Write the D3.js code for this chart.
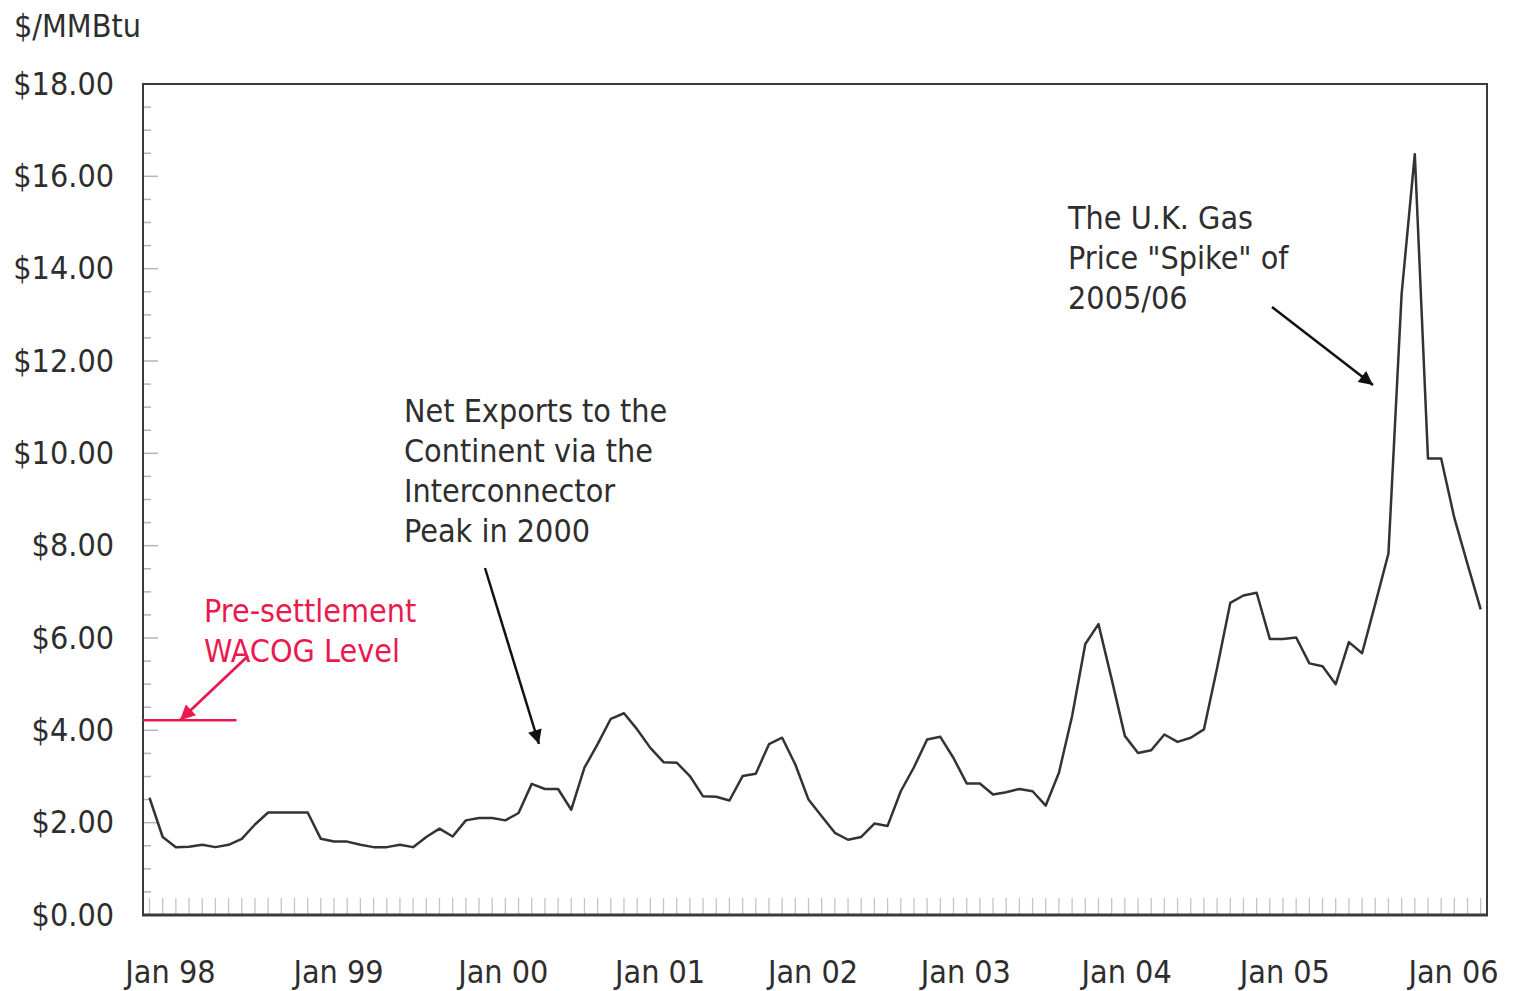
<!DOCTYPE html>
<html>
<head>
<meta charset="utf-8">
<script src="https://cdn.jsdelivr.net/npm/d3@7"></script>
<style>
  body { margin: 0; background: #fff; }
  svg text { font-family: "DejaVu Sans Condensed", "DejaVu Sans", sans-serif; fill: #2e2e2e; }
</style>
</head>
<body>
<svg id="chart" width="1513" height="991"></svg>
<script>
// monthly UK gas price, Jan 98 .. Jun 06 ($/MMBtu)
var prices = [
  2.54, 1.69, 1.47, 1.48, 1.52, 1.47, 1.52, 1.65, 1.96, 2.22, 2.22, 2.22,
  2.22, 1.65, 1.59, 1.59, 1.52, 1.47, 1.47, 1.52, 1.47, 1.69, 1.87, 1.70,
  2.05, 2.10, 2.10, 2.05, 2.21, 2.84, 2.73, 2.73, 2.28, 3.19, 3.70, 4.25,
  4.37, 4.02, 3.62, 3.31, 3.30, 3.01, 2.57, 2.56, 2.48, 3.01, 3.06, 3.70,
  3.84, 3.26, 2.50, 2.14, 1.78, 1.63, 1.69, 1.98, 1.93, 2.68, 3.20, 3.80,
  3.86, 3.40, 2.85, 2.85, 2.61, 2.66, 2.73, 2.68, 2.37, 3.08, 4.31, 5.87,
  6.30, 5.11, 3.88, 3.51, 3.57, 3.91, 3.75, 3.84, 4.02, 5.35, 6.76, 6.92,
  6.98, 5.98, 5.98, 6.01, 5.45, 5.39, 5.00, 5.91, 5.67, 6.74, 7.83, 13.45,
  16.48, 9.89, 9.89, 8.60, 7.60, 6.62
];

// x tick labels and where they sit (in months from Jan 98)
var xLabels = ["Jan 98", "Jan 99", "Jan 00", "Jan 01", "Jan 02", "Jan 03", "Jan 04", "Jan 05", "Jan 06"];
var xLabelIdx = [1.55, 14.3, 26.8, 38.7, 50.3, 61.9, 74.1, 86.1, 98.9];

// y ticks
var yMajor = [0, 2, 4, 6, 8, 10, 12, 14, 16, 18];
var yMinor = d3.range(0, 18.01, 0.5);

// pre-settlement WACOG level and the months it spans
var wacog = 4.22;
var wacogSpan = [-0.5, 6.6];

var svg = d3.select("#chart");

var plotL = 143, plotR = 1487, plotT = 84, plotB = 915;

var x = d3.scaleLinear()
  .domain([0, prices.length - 1])
  .range([149.5, 1480.7]);

var y = d3.scaleLinear()
  .domain([0, 18])
  .range([plotB, plotT]);

// unit label
svg.append("text")
  .attr("x", 14).attr("y", 37)
  .style("font-size", "32px")
  .text("$/MMBtu");

// minor ticks on the y axis (pointing inward)
svg.append("g")
  .selectAll("line")
  .data(yMinor)
  .enter()
  .append("line")
  .attr("x1", plotL)
  .attr("x2", function (d) { return d % 2 === 0 ? plotL + 15 : plotL + 8; })
  .attr("y1", function (d) { return y(d); })
  .attr("y2", function (d) { return y(d); })
  .attr("stroke", "#b5b5b5")
  .attr("stroke-width", 1.5);

// monthly ticks on the x axis
svg.append("g")
  .selectAll("line")
  .data(d3.range(prices.length))
  .enter()
  .append("line")
  .attr("x1", function (d) { return x(d); })
  .attr("x2", function (d) { return x(d); })
  .attr("y1", plotB)
  .attr("y2", plotB - 17)
  .attr("stroke", "#c4c4c4")
  .attr("stroke-width", 1.3);

// Y axis labels
var yAxis = d3.axisLeft(y)
  .tickValues(yMajor)
  .tickSize(0)
  .tickPadding(29)
  .tickFormat(function (d) { return "$" + d.toFixed(2); });
var gy = svg.append("g")
  .attr("transform", "translate(" + plotL + ",0)")
  .call(yAxis);
gy.select(".domain").remove();
gy.selectAll("text")
  .style("font-size", "32px")
  .style("font-family", "'DejaVu Sans Condensed', 'DejaVu Sans', sans-serif")
  .attr("fill", "#2e2e2e");

// X axis labels
var xAxis = d3.axisBottom(x)
  .tickValues(xLabelIdx)
  .tickSize(0)
  .tickPadding(45)
  .tickFormat(function (d, i) { return xLabels[i]; });
var gx = svg.append("g")
  .attr("transform", "translate(0," + plotB + ")")
  .call(xAxis);
gx.select(".domain").remove();
gx.selectAll("text")
  .style("font-size", "32px")
  .style("font-family", "'DejaVu Sans Condensed', 'DejaVu Sans', sans-serif")
  .attr("fill", "#2e2e2e");

// plot frame
svg.append("rect")
  .attr("x", plotL).attr("y", plotT)
  .attr("width", plotR - plotL).attr("height", plotB - plotT)
  .attr("fill", "none")
  .attr("stroke", "#3a3a3a")
  .attr("stroke-width", 2);
svg.append("line")
  .attr("x1", plotL - 1).attr("x2", plotR + 1)
  .attr("y1", plotB).attr("y2", plotB)
  .attr("stroke", "#3a3a3a")
  .attr("stroke-width", 3);

// price line
var line = d3.line()
  .x(function (d, i) { return x(i); })
  .y(function (d) { return y(d); });
svg.append("path")
  .datum(prices)
  .attr("d", line)
  .attr("fill", "none")
  .attr("stroke", "#333")
  .attr("stroke-width", 2.5)
  .attr("stroke-linejoin", "round");

// arrow heads
var defs = svg.append("defs");
function marker(id, color, w, h) {
  defs.append("marker")
    .attr("id", id)
    .attr("viewBox", "0 0 10 10")
    .attr("refX", 10).attr("refY", 5)
    .attr("markerUnits", "userSpaceOnUse")
    .attr("markerWidth", w).attr("markerHeight", h)
    .attr("orient", "auto")
    .append("path")
    .attr("d", "M0,0 L10,5 L0,10 z")
    .attr("fill", color);
}
marker("arrBlack", "#111", 26, 14);
marker("arrRed", "#ea1a4f", 26, 15);

// WACOG level
var red = "#ea1a4f";
svg.append("line")
  .attr("x1", x(wacogSpan[0])).attr("x2", x(wacogSpan[1]))
  .attr("y1", y(wacog)).attr("y2", y(wacog))
  .attr("stroke", red)
  .attr("stroke-width", 2.6);

svg.append("text").attr("x", 204).attr("y", 622)
  .style("font-size", "32px").style("fill", red).text("Pre-settlement");
svg.append("text").attr("x", 204).attr("y", 662)
  .style("font-size", "32px").style("fill", red).text("WACOG Level");
svg.append("line")
  .attr("x1", 248).attr("y1", 656)
  .attr("x2", 180).attr("y2", y(wacog))
  .attr("stroke", red).attr("stroke-width", 2.8)
  .attr("marker-end", "url(#arrRed)");

// interconnector note
var note1 = ["Net Exports to the", "Continent via the", "Interconnector", "Peak in 2000"];
svg.append("g").selectAll("text")
  .data(note1).enter().append("text")
  .attr("x", 404)
  .attr("y", function (d, i) { return 422 + i * 40; })
  .style("font-size", "32px")
  .text(function (d) { return d; });
svg.append("line")
  .attr("x1", 485).attr("y1", 568)
  .attr("x2", 539).attr("y2", 744)
  .attr("stroke", "#111").attr("stroke-width", 2.5)
  .attr("marker-end", "url(#arrBlack)");

// spike note
var note2 = ["The U.K. Gas", "Price \"Spike\" of", "2005/06"];
svg.append("g").selectAll("text")
  .data(note2).enter().append("text")
  .attr("x", 1068)
  .attr("y", function (d, i) { return 229 + i * 40; })
  .style("font-size", "32px")
  .text(function (d) { return d; });
svg.append("line")
  .attr("x1", 1272).attr("y1", 307)
  .attr("x2", 1373).attr("y2", 385)
  .attr("stroke", "#111").attr("stroke-width", 2.5)
  .attr("marker-end", "url(#arrBlack)");
</script>
</body>
</html>
